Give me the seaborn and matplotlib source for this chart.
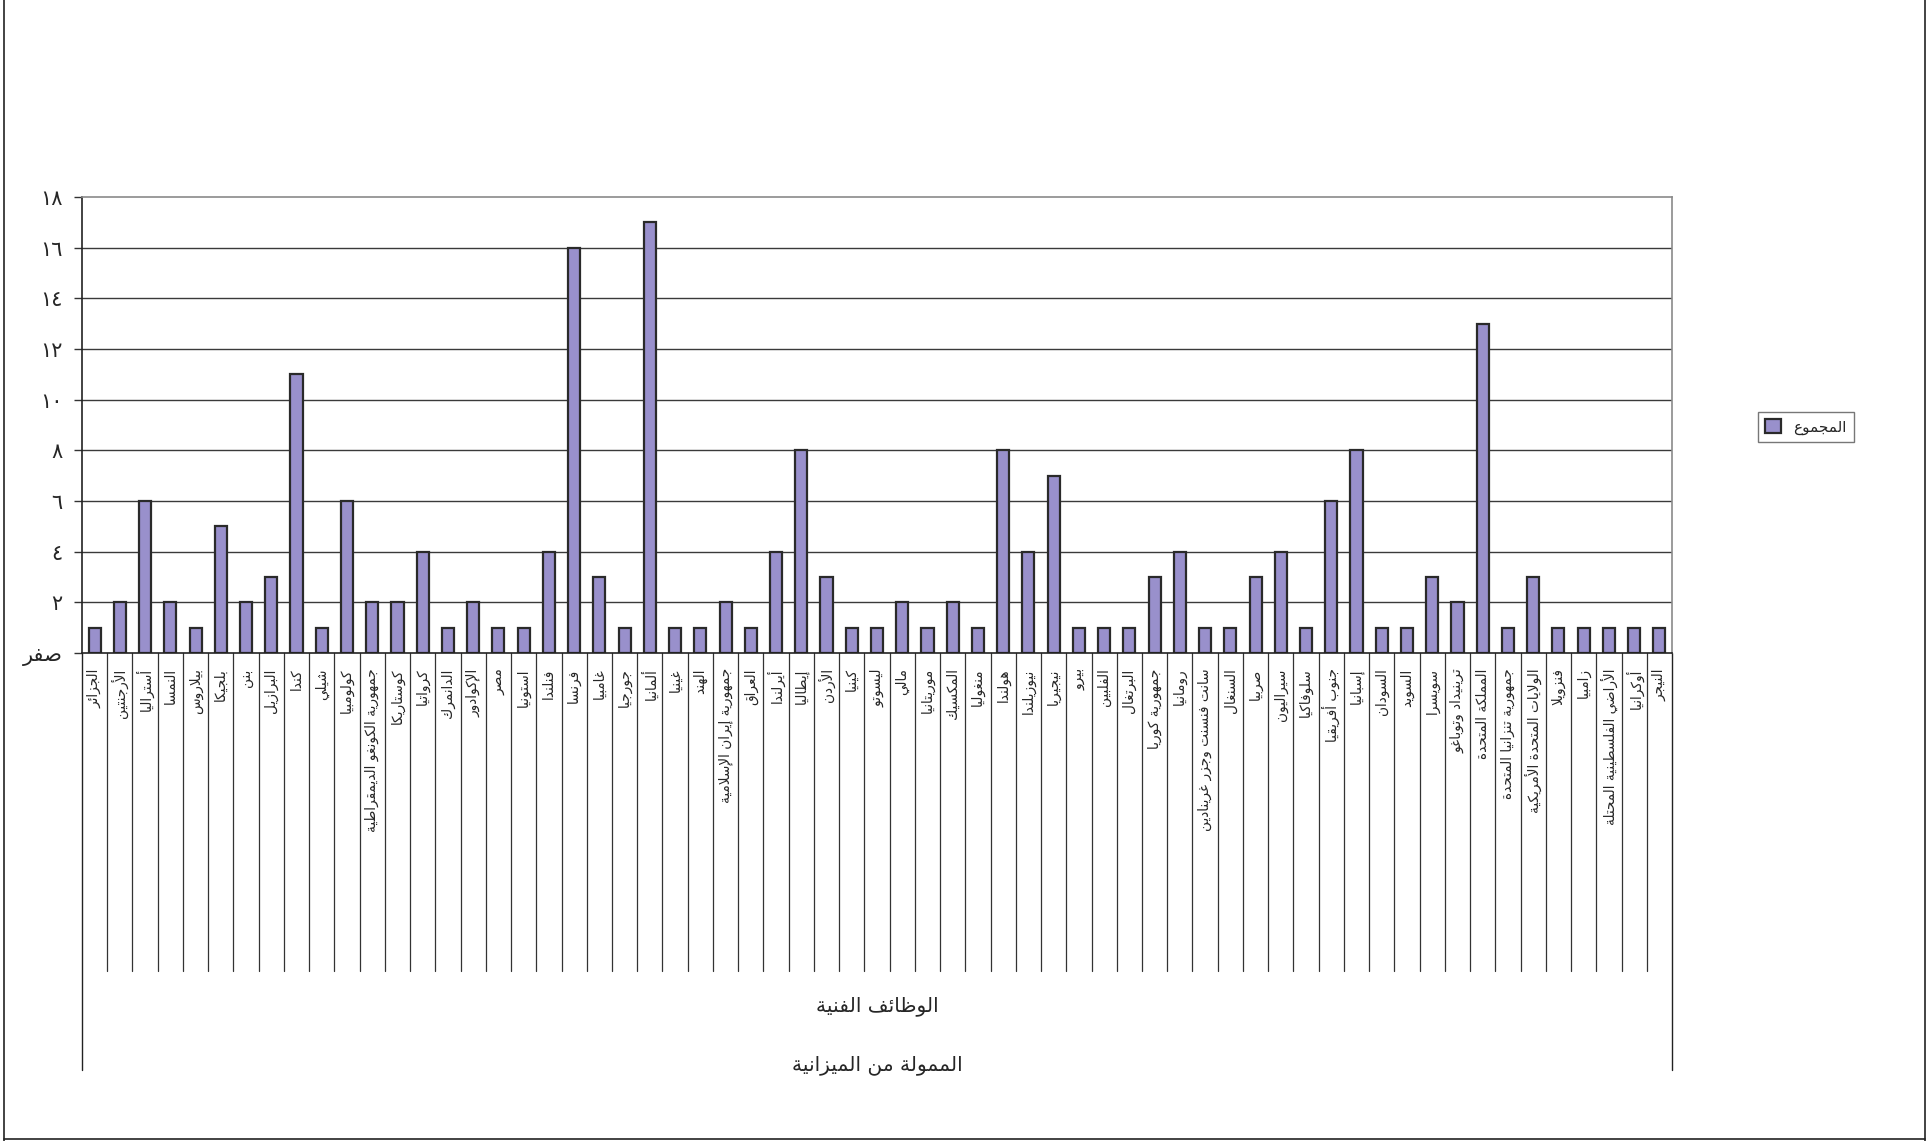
import matplotlib
matplotlib.use('Agg')
import matplotlib.pyplot as plt
import seaborn as sns
from matplotlib.lines import Line2D
from matplotlib.patches import Patch

# ========== data ==========
countries = ['الجزائر', 'الأرجنتين', 'أستراليا', 'النمسا', 'بيلاروس', 'بلجيكا', 'بنن',
             'البرازيل', 'كندا', 'شيلي', 'كولومبيا', 'جمهورية الكونغو الديمقراطية',
             'كوستاريكا', 'كرواتيا', 'الدانمرك', 'الإكوادور', 'مصر', 'استونيا', 'فنلندا',
             'فرنسا', 'غامبيا', 'جورجيا', 'ألمانيا', 'غينيا', 'الهند',
             'جمهورية إيران الإسلامية', 'العراق', 'أيرلندا', 'إيطاليا', 'الأردن', 'كينيا',
             'ليسوتو', 'مالي', 'موريتانيا', 'المكسيك', 'منغوليا', 'هولندا', 'نيوزيلندا',
             'نيجيريا', 'بيرو', 'الفلبين', 'البرتغال', 'جمهورية كوريا', 'رومانيا',
             'سانت فنسنت وجزر غرينادين', 'السنغال', 'صربيا', 'سيراليون', 'سلوفاكيا',
             'جنوب أفريقيا', 'إسبانيا', 'السودان', 'السويد', 'سويسرا', 'ترينيداد وتوباغو',
             'المملكة المتحدة', 'جمهورية تنزانيا المتحدة', 'الولايات المتحدة الأمريكية',
             'فنزويلا', 'زامبيا', 'الأراضي الفلسطينية المحتلة', 'أوكرانيا', 'النيجر']
totals = [1, 2, 6, 2, 1, 5, 2, 3, 11, 1,
          6, 2, 2, 4, 1, 2, 1, 1, 4, 16,
          3, 1, 17, 1, 1, 2, 1, 4, 8, 3,
          1, 1, 2, 1, 2, 1, 8, 4, 7, 1,
          1, 1, 3, 4, 1, 1, 3, 4, 1, 6,
          8, 1, 1, 3, 2, 13, 1, 3, 1, 1,
          1, 1, 1]
y_ticks = [0, 2, 4, 6, 8, 10, 12, 14, 16, 18]
y_labels = ['صفر', '٢', '٤', '٦', '٨', '١٠', '١٢', '١٤', '١٦', '١٨']
series_name = 'المجموع'
axis_title_1 = 'الوظائف الفنية'
axis_title_2 = 'الممولة من الميزانية'

# ========== simple arabic shaping (no raqm in matplotlib) ==========
# base codepoint of isolated form, joining type: 0 none, 1 right, 2 dual
ARABIC = {
    '\u0621': (0xFE80, 0), '\u0622': (0xFE81, 1), '\u0623': (0xFE83, 1),
    '\u0624': (0xFE85, 1), '\u0625': (0xFE87, 1), '\u0626': (0xFE89, 2),
    '\u0627': (0xFE8D, 1), '\u0628': (0xFE8F, 2), '\u0629': (0xFE93, 1),
    '\u062A': (0xFE95, 2), '\u062B': (0xFE99, 2), '\u062C': (0xFE9D, 2),
    '\u062D': (0xFEA1, 2), '\u062E': (0xFEA5, 2), '\u062F': (0xFEA9, 1),
    '\u0630': (0xFEAB, 1), '\u0631': (0xFEAD, 1), '\u0632': (0xFEAF, 1),
    '\u0633': (0xFEB1, 2), '\u0634': (0xFEB5, 2), '\u0635': (0xFEB9, 2),
    '\u0636': (0xFEBD, 2), '\u0637': (0xFEC1, 2), '\u0638': (0xFEC5, 2),
    '\u0639': (0xFEC9, 2), '\u063A': (0xFECD, 2), '\u0641': (0xFED1, 2),
    '\u0642': (0xFED5, 2), '\u0643': (0xFED9, 2), '\u0644': (0xFEDD, 2),
    '\u0645': (0xFEE1, 2), '\u0646': (0xFEE5, 2), '\u0647': (0xFEE9, 2),
    '\u0648': (0xFEED, 1), '\u0649': (0xFEEF, 1), '\u064A': (0xFEF1, 2),
}
LAM_ALEF = {'\u0622': 0xFEF5, '\u0623': 0xFEF7, '\u0625': 0xFEF9, '\u0627': 0xFEFB}


def shape(text):
    items = []
    i = 0
    while i < len(text):
        c = text[i]
        if c == '\u0644' and i + 1 < len(text) and text[i + 1] in LAM_ALEF:
            items.append(('LA', text[i + 1]))
            i += 2
        else:
            items.append(('C', c))
            i += 1

    def jtype(it):
        if it[0] == 'LA':
            return 1
        return ARABIC.get(it[1], (0, -1))[1]

    out = []
    for k, it in enumerate(items):
        t = jtype(it)
        prev = jtype(items[k - 1]) if k > 0 else -1
        nxt = jtype(items[k + 1]) if k + 1 < len(items) else -1
        join_prev = t >= 1 and prev == 2
        join_next = t == 2 and nxt >= 1
        if it[0] == 'LA':
            out.append(chr(LAM_ALEF[it[1]] + (1 if join_prev else 0)))
            continue
        c = it[1]
        if c not in ARABIC:
            out.append(c)
            continue
        base = ARABIC[c][0]
        if t <= 1:
            form = 1 if join_prev else 0
        elif join_prev and join_next:
            form = 3
        elif join_prev:
            form = 1
        elif join_next:
            form = 2
        else:
            form = 0
        out.append(chr(base + form))
    return ''.join(reversed(out))


# ========== plot ==========
sns.set_style('white')
plt.rcParams['font.family'] = ['DejaVu Sans']

bar_color = '#9990cc'
fig = plt.figure(figsize=(19.28, 11.41), dpi=100)
ax = fig.add_axes([82 / 1928, 1 - 653 / 1141, (1672 - 82) / 1928, (653 - 197) / 1141])

sns.barplot(x=countries, y=totals, color=bar_color, width=0.48,
            edgecolor='#2a2a2a', linewidth=1.6, saturation=1, ax=ax)

ax.set_xlim(-0.5, len(countries) - 0.5)
ax.set_ylim(0, 18)
ax.set_yticks(y_ticks)
ax.set_yticklabels([shape(y_labels[0])] + y_labels[1:], fontsize=15)
ax.set_xticks(range(len(countries)))
ax.set_xticklabels([shape(c) for c in countries], rotation=90, fontsize=9.8, va='top')
ax.tick_params(axis='x', length=0, pad=11)
ax.tick_params(axis='y', length=6, width=1, color='#333333', direction='out', pad=8,
               left=True)
ax.set_xlabel('')
ax.set_ylabel('')

for v in y_ticks[1:-1]:
    ax.axhline(v, color='#3a3a3a', lw=1.0, zorder=0)

ax.spines['left'].set_color('#222222')
ax.spines['bottom'].set_color('#222222')
ax.spines['top'].set_color('#8a8a8a')
ax.spines['right'].set_color('#8a8a8a')
for s in ax.spines.values():
    s.set_linewidth(1.2)

# category separators below the plot area
trans = ax.get_xaxis_transform()
n = len(countries)
for k in range(n + 1):
    xb = k - 0.5
    if k == 0 or k == n:
        ax.plot([xb, xb], [0, -0.914], transform=trans, color='#222222', lw=1.0,
                clip_on=False)
    else:
        ax.plot([xb, xb], [0, -0.697], transform=trans, color='#333333', lw=0.9,
                clip_on=False)

ax.text(0.5, -0.774, shape(axis_title_1), transform=ax.transAxes, ha='center',
        va='center', fontsize=14.5)
ax.text(0.5, -0.904, shape(axis_title_2), transform=ax.transAxes, ha='center',
        va='center', fontsize=14.5)

leg_handle = Patch(facecolor=bar_color, edgecolor='#2a2a2a', linewidth=1.6)
leg = fig.legend(handles=[leg_handle], labels=[shape(series_name)],
                 loc='center left', bbox_to_anchor=(1750 / 1928, 1 - 427 / 1141),
                 fontsize=11, frameon=True, fancybox=False, edgecolor='#555555',
                 handlelength=1.0, handleheight=1.0, borderpad=0.5)
leg.get_frame().set_linewidth(1.0)

# outer frame of the whole chart
for xs, ys in [([0.002, 0.002], [0, 1]), ([0.002, 0.9985], [0.0015, 0.0015]),
               ([0.9985, 0.9985], [0, 1])]:
    fig.add_artist(Line2D(xs, ys, transform=fig.transFigure, color='#222222', lw=1.2))

fig.savefig('out.png', dpi=100)
